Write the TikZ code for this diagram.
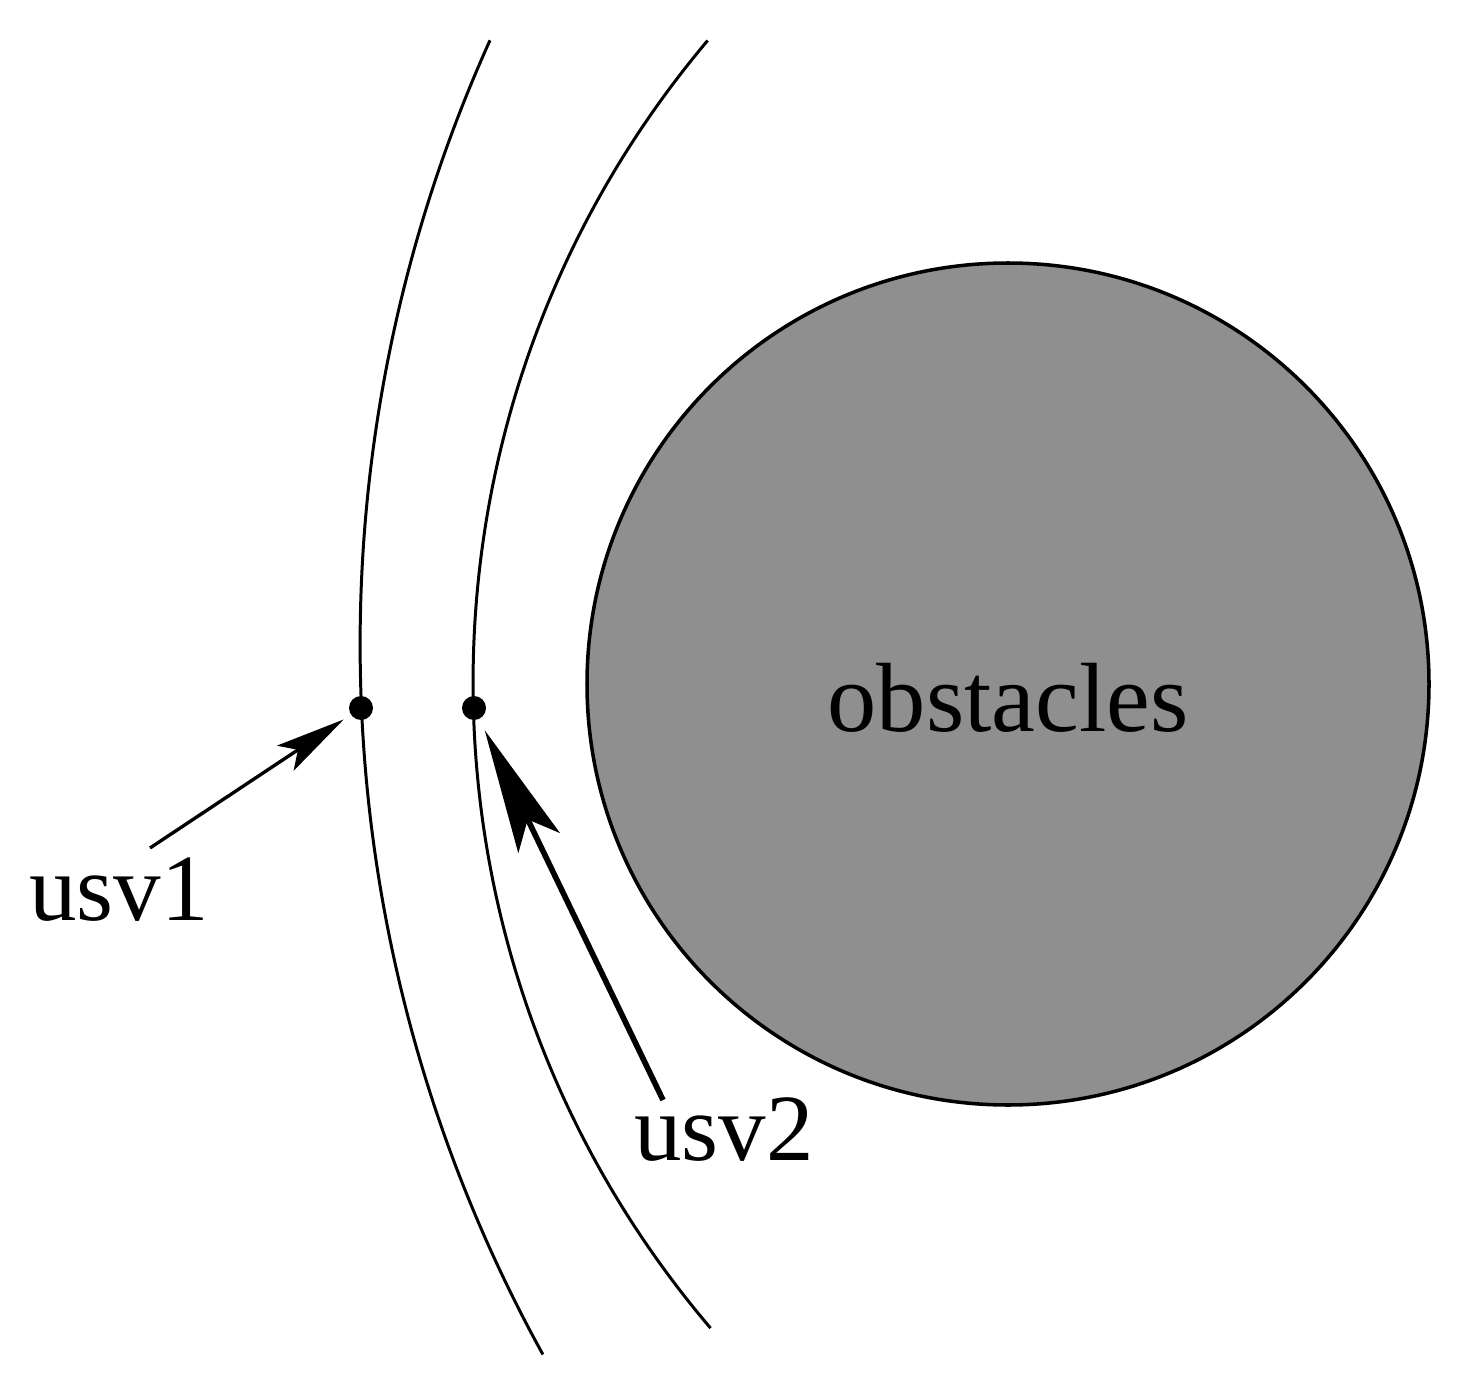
\documentclass[tikz,border=0pt]{standalone}
\usepackage{fontspec}
\setmainfont{Liberation Serif}
\usetikzlibrary{arrows.meta}
\definecolor{obstaclegray}{RGB}{143,143,143}
\tikzset{
    usvdot/.style={circle,fill=black,inner sep=0pt,minimum size=2.4mm},
    usvlabel/.style={anchor=base,font=\fontsize{27}{32}\selectfont},
    track/.style={line width=0.85pt},
    thinarrow/.style={-{Stealth[length=7mm,width=3mm,inset=1.5mm]},line width=0.95pt},
    thickarrow/.style={-{Stealth[length=12.5mm,width=4.6mm,inset=2.6mm]},line width=1.6pt}
}
\begin{document}
\begin{tikzpicture}
                \useasboundingbox (0,0) rectangle (14.69,13.96);

                \node[circle,draw,line width=1pt,fill=obstaclegray,minimum size=8.42cm,inner sep=0pt,text height=9.5mm,font=\fontsize{28}{34}\selectfont] (obstacle) at (10.08,7.12) {obstacles};

                % trajectories
                \draw[track] (18.30,7.515) ++(155.73:14.70) arc[start angle=155.73,end angle=208.88,radius=14.70];
                \draw[track] (14.69,7.134) ++(139.86:9.96) arc[start angle=139.86,end angle=220.4,radius=9.96];

                \node[usvdot] (usv1) at (3.61,6.88) {};
                \node[usvdot] (usv2) at (4.74,6.88) {};
                \node[usvlabel] (usv1label) at (1.19,4.76) {usv1};
                \node[usvlabel] (usv2label) at (7.24,2.36) {usv2};
                \coordinate (usv1tail) at (1.50,5.48);
                \coordinate (usv2tail) at (6.63,2.96);

                \draw[thinarrow,shorten >=0.8mm] (usv1tail) to (usv1);
                \draw[thickarrow,shorten >=1.2mm] (usv2tail) to (usv2);
            \end{tikzpicture}
\end{document}
